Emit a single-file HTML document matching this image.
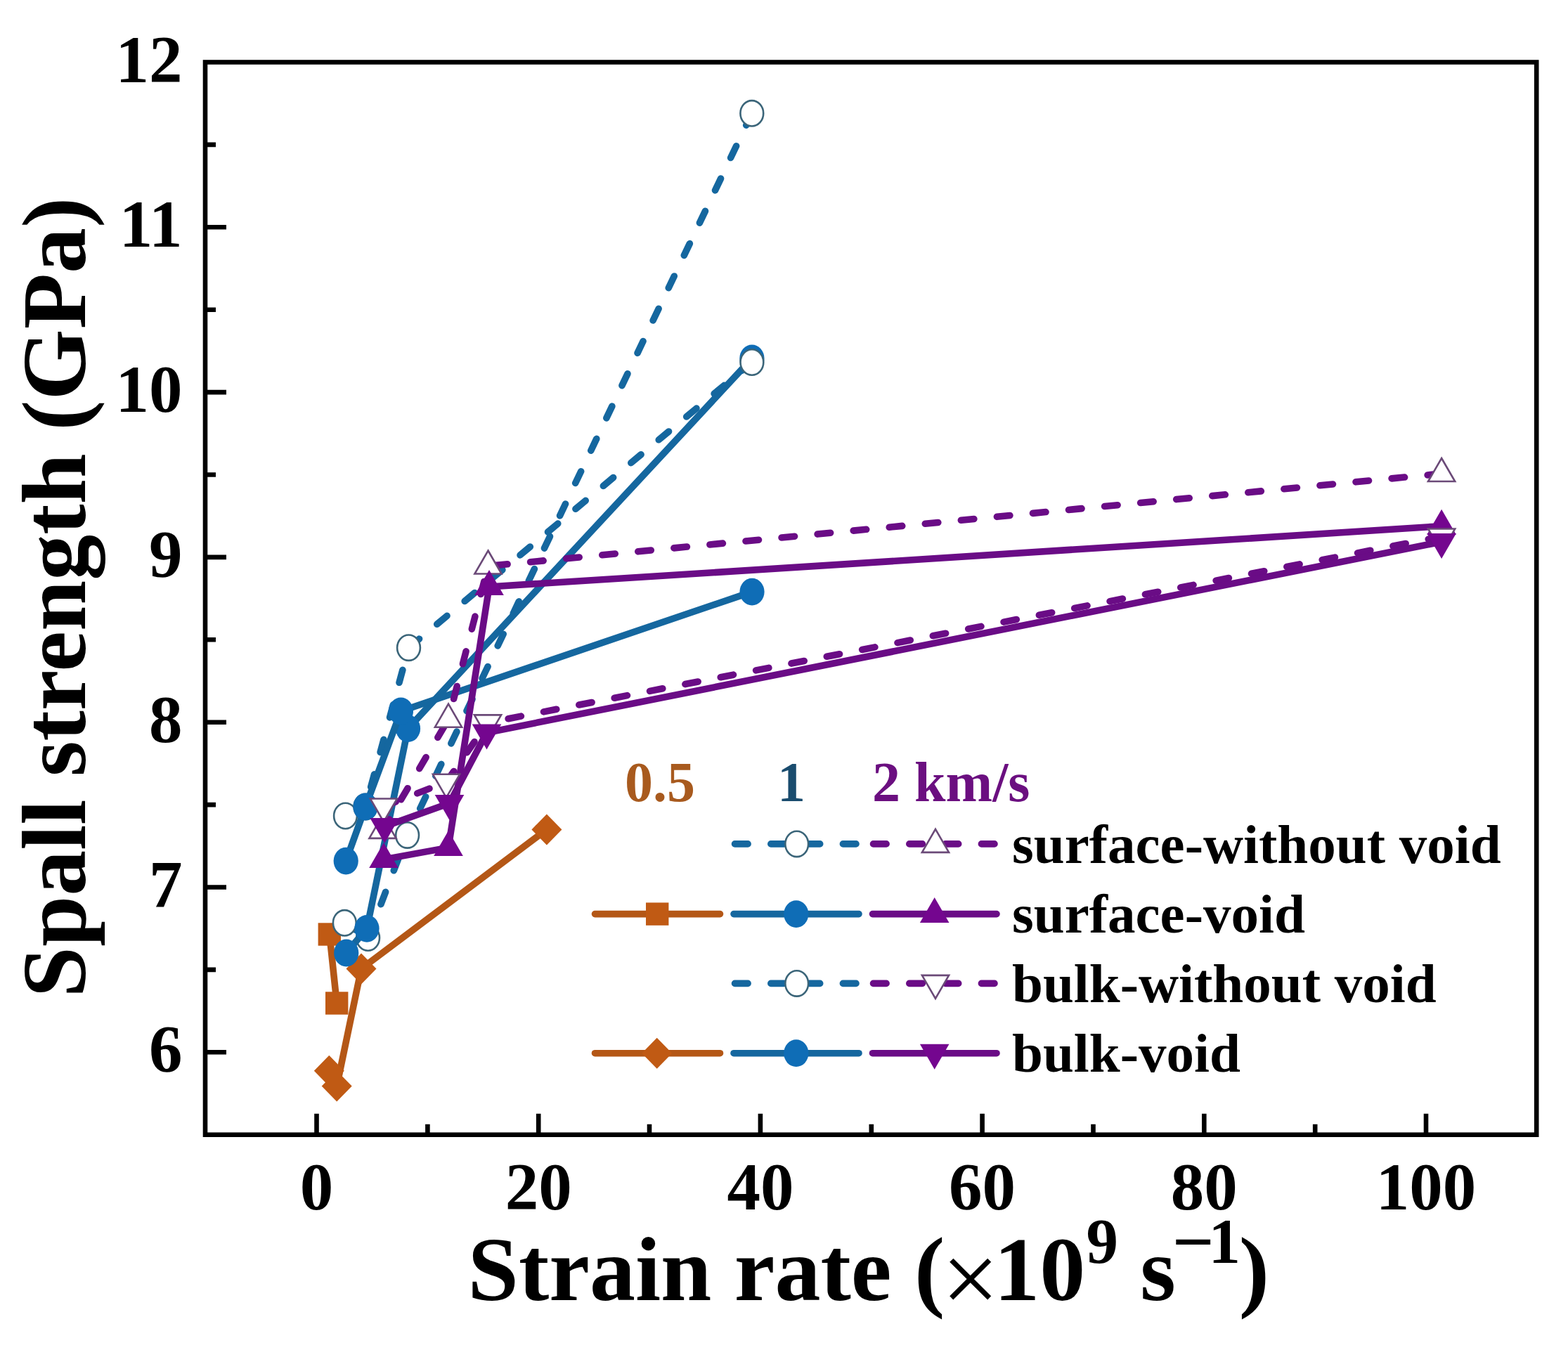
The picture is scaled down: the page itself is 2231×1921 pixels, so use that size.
<!DOCTYPE html>
<html><head><meta charset="utf-8"><title>Spall strength vs strain rate</title>
<style>html,body{margin:0;padding:0;background:#fff;overflow:hidden;}svg{display:block;}</style>
</head><body>
<svg width="2231" height="1921" viewBox="0 0 2231 1921">
<rect width="2231" height="1921" fill="#fff"/>
<g>
<polyline points="468.8,1329.5 479.2,1427.5" fill="none" stroke="#B45716" stroke-width="9.6" stroke-linecap="round" stroke-linejoin="round"/>
<rect x="452.6" y="1313.3" width="32.4" height="32.4" fill="#C05A14"/>
<rect x="463.0" y="1411.3" width="32.4" height="32.4" fill="#C05A14"/>
<polyline points="468.3,1523.7 479.2,1545.6 514.0,1378.5 777.9,1180.4" fill="none" stroke="#B45716" stroke-width="9.6" stroke-linecap="round" stroke-linejoin="round"/>
<polygon points="468.3,1501.7 489.8,1523.7 468.3,1545.7 446.8,1523.7" fill="#C05A14"/>
<polygon points="479.2,1523.6 500.7,1545.6 479.2,1567.6 457.7,1545.6" fill="#C05A14"/>
<polygon points="514.0,1356.5 535.5,1378.5 514.0,1400.5 492.5,1378.5" fill="#C05A14"/>
<polygon points="777.9,1158.4 799.4,1180.4 777.9,1202.4 756.4,1180.4" fill="#C05A14"/>
<line x1="490.3" y1="1313.3" x2="523.6" y2="1334.6" stroke="#15679F" stroke-width="9.6" stroke-linecap="round" stroke-dasharray="18.6 32.7" stroke-dashoffset="0"/><line x1="523.6" y1="1334.6" x2="579.6" y2="1188.4" stroke="#15679F" stroke-width="9.6" stroke-linecap="round" stroke-dasharray="18.6 32.7" stroke-dashoffset="0"/><line x1="579.6" y1="1188.4" x2="1069.8" y2="161.3" stroke="#15679F" stroke-width="9.6" stroke-linecap="round" stroke-dasharray="18.6 32.7" stroke-dashoffset="9.3"/>
<ellipse cx="490.3" cy="1313.3" rx="16.4" ry="18.2" fill="#fff" stroke="#3B6579" stroke-width="2.6"/>
<ellipse cx="523.6" cy="1334.6" rx="16.4" ry="18.2" fill="#fff" stroke="#3B6579" stroke-width="2.6"/>
<ellipse cx="579.6" cy="1188.4" rx="16.4" ry="18.2" fill="#fff" stroke="#3B6579" stroke-width="2.6"/>
<ellipse cx="1069.8" cy="161.3" rx="16.4" ry="18.2" fill="#fff" stroke="#3B6579" stroke-width="2.6"/>
<polyline points="492.7,1356.0 522.0,1321.3 580.5,1036.7 1069.9,510.0" fill="none" stroke="#15679F" stroke-width="9.6" stroke-linecap="round" stroke-linejoin="round"/>
<ellipse cx="492.7" cy="1356.0" rx="17.6" ry="19.4" fill="#0F6DB6"/>
<ellipse cx="522.0" cy="1321.3" rx="17.6" ry="19.4" fill="#0F6DB6"/>
<ellipse cx="580.5" cy="1036.7" rx="17.6" ry="19.4" fill="#0F6DB6"/>
<ellipse cx="1069.9" cy="510.0" rx="17.6" ry="19.4" fill="#0F6DB6"/>
<line x1="491.5" y1="1161.0" x2="520.0" y2="1148.0" stroke="#15679F" stroke-width="9.6" stroke-linecap="round" stroke-dasharray="18.6 32.7" stroke-dashoffset="0"/><line x1="520.0" y1="1148.0" x2="581.5" y2="921.7" stroke="#15679F" stroke-width="9.6" stroke-linecap="round" stroke-dasharray="18.6 32.7" stroke-dashoffset="22.1"/><line x1="581.5" y1="921.7" x2="1069.9" y2="515.5" stroke="#15679F" stroke-width="9.6" stroke-linecap="round" stroke-dasharray="18.6 32.7" stroke-dashoffset="50.3"/>
<ellipse cx="491.5" cy="1161.0" rx="16.4" ry="18.2" fill="#fff" stroke="#3B6579" stroke-width="2.6"/>
<ellipse cx="520.0" cy="1148.0" rx="16.4" ry="18.2" fill="#fff" stroke="#3B6579" stroke-width="2.6"/>
<ellipse cx="581.5" cy="921.7" rx="16.4" ry="18.2" fill="#fff" stroke="#3B6579" stroke-width="2.6"/>
<ellipse cx="1069.9" cy="515.5" rx="16.4" ry="18.2" fill="#fff" stroke="#3B6579" stroke-width="2.6"/>
<polyline points="492.2,1225.1 520.0,1148.0 570.4,1012.0 1070.0,842.1" fill="none" stroke="#15679F" stroke-width="9.6" stroke-linecap="round" stroke-linejoin="round"/>
<ellipse cx="492.2" cy="1225.1" rx="17.6" ry="19.4" fill="#0F6DB6"/>
<ellipse cx="520.0" cy="1148.0" rx="17.6" ry="19.4" fill="#0F6DB6"/>
<ellipse cx="570.4" cy="1012.0" rx="17.6" ry="19.4" fill="#0F6DB6"/>
<ellipse cx="1070.0" cy="842.1" rx="17.6" ry="19.4" fill="#0F6DB6"/>
<line x1="544.5" y1="1181.9" x2="638.0" y2="1023.7" stroke="#6A0C86" stroke-width="9.6" stroke-linecap="round" stroke-dasharray="18.6 32.7" stroke-dashoffset="0"/><line x1="638.0" y1="1023.7" x2="694.5" y2="805.5" stroke="#6A0C86" stroke-width="9.6" stroke-linecap="round" stroke-dasharray="18.6 32.7" stroke-dashoffset="21.1"/><line x1="694.5" y1="805.5" x2="2051.1" y2="674.0" stroke="#6A0C86" stroke-width="9.6" stroke-linecap="round" stroke-dasharray="18.6 32.7" stroke-dashoffset="42.2"/>
<polygon points="544.5,1159.9 563.6,1192.9 525.4,1192.9" fill="#fff" stroke="#6B4A78" stroke-width="2.6" stroke-linejoin="miter"/>
<polygon points="638.0,1001.7 657.1,1034.7 618.9,1034.7" fill="#fff" stroke="#6B4A78" stroke-width="2.6" stroke-linejoin="miter"/>
<polygon points="694.5,783.5 713.6,816.5 675.4,816.5" fill="#fff" stroke="#6B4A78" stroke-width="2.6" stroke-linejoin="miter"/>
<polygon points="2051.1,652.0 2070.2,685.0 2032.0,685.0" fill="#fff" stroke="#6B4A78" stroke-width="2.6" stroke-linejoin="miter"/>
<polyline points="546.0,1222.9 638.0,1206.1 696.0,835.0 2051.1,748.7" fill="none" stroke="#6A0C86" stroke-width="9.6" stroke-linecap="round" stroke-linejoin="round"/>
<polygon points="546.0,1198.9 566.8,1234.9 525.2,1234.9" fill="#74068F"/>
<polygon points="638.0,1182.1 658.8,1218.1 617.2,1218.1" fill="#74068F"/>
<polygon points="696.0,811.0 716.8,847.0 675.2,847.0" fill="#74068F"/>
<polygon points="2051.1,724.7 2071.9,760.7 2030.3,760.7" fill="#74068F"/>
<line x1="545.9" y1="1147.5" x2="635.0" y2="1112.8" stroke="#6A0C86" stroke-width="9.6" stroke-linecap="round" stroke-dasharray="18.6 32.7" stroke-dashoffset="0"/><line x1="635.0" y1="1112.8" x2="694.0" y2="1028.4" stroke="#6A0C86" stroke-width="9.6" stroke-linecap="round" stroke-dasharray="18.6 32.7" stroke-dashoffset="0"/><line x1="694.0" y1="1028.4" x2="2051.1" y2="763.5" stroke="#6A0C86" stroke-width="9.6" stroke-linecap="round" stroke-dasharray="18.6 32.7" stroke-dashoffset="21.6"/>
<polygon points="545.9,1169.5 565.0,1136.5 526.8,1136.5" fill="#fff" stroke="#6B4A78" stroke-width="2.6" stroke-linejoin="miter"/>
<polygon points="635.0,1134.8 654.1,1101.8 615.9,1101.8" fill="#fff" stroke="#6B4A78" stroke-width="2.6" stroke-linejoin="miter"/>
<polygon points="694.0,1050.4 713.1,1017.4 674.9,1017.4" fill="#fff" stroke="#6B4A78" stroke-width="2.6" stroke-linejoin="miter"/>
<polygon points="2051.1,785.5 2070.2,752.5 2032.0,752.5" fill="#fff" stroke="#6B4A78" stroke-width="2.6" stroke-linejoin="miter"/>
<polyline points="547.2,1176.0 639.5,1143.0 692.5,1042.6 2051.1,771.0" fill="none" stroke="#6A0C86" stroke-width="9.6" stroke-linecap="round" stroke-linejoin="round"/>
<polygon points="547.2,1200.0 568.0,1164.0 526.4,1164.0" fill="#74068F"/>
<polygon points="639.5,1167.0 660.3,1131.0 618.7,1131.0" fill="#74068F"/>
<polygon points="692.5,1066.6 713.3,1030.6 671.7,1030.6" fill="#74068F"/>
<polygon points="2051.1,795.0 2071.9,759.0 2030.3,759.0" fill="#74068F"/>
</g>
<rect x="292.0" y="88.5" width="1894.1999999999998" height="1526.2" fill="none" stroke="#000" stroke-width="6.6"/>
<path d="M450.5,1614.7 V1584.7 M608.4,1614.7 V1599.7 M766.2,1614.7 V1584.7 M924.0,1614.7 V1599.7 M1081.9,1614.7 V1584.7 M1239.8,1614.7 V1599.7 M1397.6,1614.7 V1584.7 M1555.5,1614.7 V1599.7 M1713.3,1614.7 V1584.7 M1871.2,1614.7 V1599.7 M2029.0,1614.7 V1584.7 M292.0,1497.3 H322.0 M292.0,1379.9 H307.0 M292.0,1262.5 H322.0 M292.0,1145.1 H307.0 M292.0,1027.7 H322.0 M292.0,910.3 H307.0 M292.0,792.9 H322.0 M292.0,675.5 H307.0 M292.0,558.1 H322.0 M292.0,440.7 H307.0 M292.0,323.3 H322.0 M292.0,205.9 H307.0" stroke="#000" stroke-width="6.6" fill="none"/>
<text x="450.5" y="1721" font-size="95" text-anchor="middle" font-family="'Liberation Serif','Times New Roman',serif" font-weight="bold">0</text>
<text x="766.2" y="1721" font-size="95" text-anchor="middle" font-family="'Liberation Serif','Times New Roman',serif" font-weight="bold">20</text>
<text x="1081.9" y="1721" font-size="95" text-anchor="middle" font-family="'Liberation Serif','Times New Roman',serif" font-weight="bold">40</text>
<text x="1397.6" y="1721" font-size="95" text-anchor="middle" font-family="'Liberation Serif','Times New Roman',serif" font-weight="bold">60</text>
<text x="1713.3" y="1721" font-size="95" text-anchor="middle" font-family="'Liberation Serif','Times New Roman',serif" font-weight="bold">80</text>
<text x="2029.0" y="1721" font-size="95" text-anchor="middle" font-family="'Liberation Serif','Times New Roman',serif" font-weight="bold">100</text>
<text x="259.5" y="1525.3" font-size="95" text-anchor="end" font-family="'Liberation Serif','Times New Roman',serif" font-weight="bold">6</text>
<text x="259.5" y="1290.5" font-size="95" text-anchor="end" font-family="'Liberation Serif','Times New Roman',serif" font-weight="bold">7</text>
<text x="259.5" y="1055.7" font-size="95" text-anchor="end" font-family="'Liberation Serif','Times New Roman',serif" font-weight="bold">8</text>
<text x="259.5" y="820.9" font-size="95" text-anchor="end" font-family="'Liberation Serif','Times New Roman',serif" font-weight="bold">9</text>
<text x="259.5" y="586.1" font-size="95" text-anchor="end" font-family="'Liberation Serif','Times New Roman',serif" font-weight="bold">10</text>
<text x="259.5" y="351.3" font-size="95" text-anchor="end" font-family="'Liberation Serif','Times New Roman',serif" font-weight="bold">11</text>
<text x="259.5" y="116.5" font-size="95" text-anchor="end" font-family="'Liberation Serif','Times New Roman',serif" font-weight="bold">12</text>
<text transform="translate(121,850) rotate(-90)" x="0" y="0" font-size="130" text-anchor="middle" font-family="'Liberation Serif','Times New Roman',serif" font-weight="bold">Spall strength (GPa)</text>
<text y="1850" font-size="130" font-family="'Liberation Serif','Times New Roman',serif" font-weight="bold"><tspan x="665.6">Strain rate (</tspan><tspan x="1339.8" y="1867.5" font-size="145" font-weight="normal">×</tspan><tspan x="1414.2" y="1850">10</tspan><tspan x="1545.4" y="1796.5" font-size="91">9</tspan><tspan x="1622.2" y="1850">s</tspan><tspan x="1668.1" y="1801.9" font-size="105">−</tspan><tspan x="1719.6" y="1797" font-size="91">1</tspan><tspan x="1762.7" y="1850">)</tspan></text>
<text x="889" y="1139.6" font-size="80" fill="#A85A1E" font-family="'Liberation Serif','Times New Roman',serif" font-weight="bold">0.5</text>
<text x="1106" y="1139.6" font-size="80" fill="#1A4C6E" font-family="'Liberation Serif','Times New Roman',serif" font-weight="bold">1</text>
<text x="1241" y="1139.6" font-size="80" fill="#6B0F80" font-family="'Liberation Serif','Times New Roman',serif" font-weight="bold">2 km/s</text>
<line x1="1045.5" y1="1200.9" x2="1219.5" y2="1200.9" stroke="#15679F" stroke-width="9.6" stroke-linecap="round" stroke-dasharray="18.6 32.7"/>
<ellipse cx="1133.7" cy="1200.9" rx="16.4" ry="18.2" fill="#fff" stroke="#3B6579" stroke-width="2.6"/>
<line x1="1242.5" y1="1200.9" x2="1416.5" y2="1200.9" stroke="#6A0C86" stroke-width="9.6" stroke-linecap="round" stroke-dasharray="18.6 32.7"/>
<polygon points="1331.0,1179.9 1350.1,1212.9 1311.9,1212.9" fill="#fff" stroke="#6B4A78" stroke-width="2.6" stroke-linejoin="miter"/>
<line x1="846.5" y1="1300.6" x2="1024.5" y2="1300.6" stroke="#B45716" stroke-width="9.6" stroke-linecap="round"/>
<rect x="919.0" y="1284.4" width="32.4" height="32.4" fill="#C05A14"/>
<line x1="1044.0" y1="1300.6" x2="1222.0" y2="1300.6" stroke="#15679F" stroke-width="9.6" stroke-linecap="round"/>
<ellipse cx="1132.8" cy="1300.6" rx="17.6" ry="19.4" fill="#0F6DB6"/>
<line x1="1241.5" y1="1300.6" x2="1418.0" y2="1300.6" stroke="#6A0C86" stroke-width="9.6" stroke-linecap="round"/>
<polygon points="1329.7,1277.1 1350.5,1313.1 1308.9,1313.1" fill="#74068F"/>
<line x1="1045.5" y1="1399.4" x2="1219.5" y2="1399.4" stroke="#15679F" stroke-width="9.6" stroke-linecap="round" stroke-dasharray="18.6 32.7"/>
<ellipse cx="1133.7" cy="1399.4" rx="16.4" ry="18.2" fill="#fff" stroke="#3B6579" stroke-width="2.6"/>
<line x1="1242.5" y1="1399.4" x2="1416.5" y2="1399.4" stroke="#6A0C86" stroke-width="9.6" stroke-linecap="round" stroke-dasharray="18.6 32.7"/>
<polygon points="1331.0,1420.9 1350.1,1387.9 1311.9,1387.9" fill="#fff" stroke="#6B4A78" stroke-width="2.6" stroke-linejoin="miter"/>
<line x1="846.5" y1="1498.7" x2="1024.5" y2="1498.7" stroke="#B45716" stroke-width="9.6" stroke-linecap="round"/>
<polygon points="934.7,1476.7 956.2,1498.7 934.7,1520.7 913.2,1498.7" fill="#C05A14"/>
<line x1="1044.0" y1="1498.7" x2="1222.0" y2="1498.7" stroke="#15679F" stroke-width="9.6" stroke-linecap="round"/>
<ellipse cx="1132.8" cy="1498.7" rx="17.6" ry="19.4" fill="#0F6DB6"/>
<line x1="1241.5" y1="1498.7" x2="1418.0" y2="1498.7" stroke="#6A0C86" stroke-width="9.6" stroke-linecap="round"/>
<polygon points="1329.7,1521.7 1350.5,1485.7 1308.9,1485.7" fill="#74068F"/>
<text x="1440" y="1227.9" font-size="79" font-family="'Liberation Serif','Times New Roman',serif" font-weight="bold">surface-without void</text>
<text x="1440" y="1326.5" font-size="79" font-family="'Liberation Serif','Times New Roman',serif" font-weight="bold">surface-void</text>
<text x="1440" y="1425.5" font-size="79" font-family="'Liberation Serif','Times New Roman',serif" font-weight="bold">bulk-without void</text>
<text x="1440" y="1525.0" font-size="79" font-family="'Liberation Serif','Times New Roman',serif" font-weight="bold">bulk-void</text>
</svg>
</body></html>
